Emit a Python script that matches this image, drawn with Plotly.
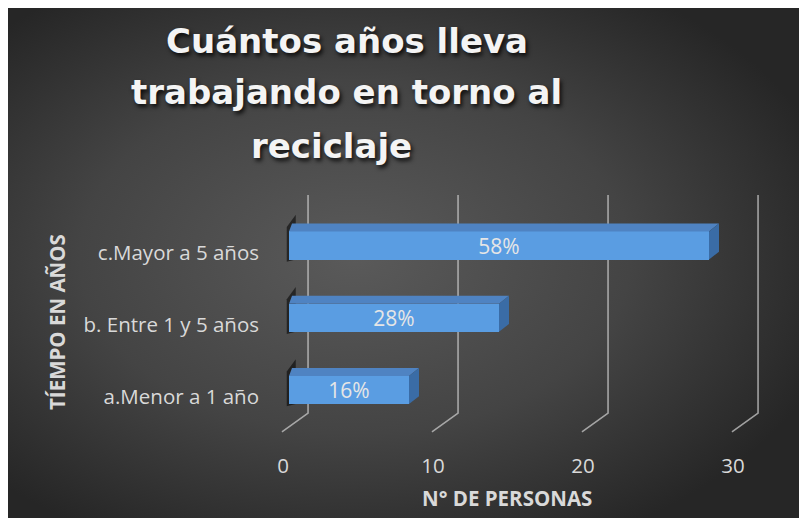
import base64
import plotly.graph_objects as go

# ---- data ----
categories = ["a.Menor a 1 año", "b. Entre 1 y 5 años", "c.Mayor a 5 años"]
personas = [8, 14, 28]
porcentajes = ["16%", "28%", "58%"]
x_ticks = [0, 10, 20, 30]
title_lines = ["Cuántos años lleva", "trabajando en torno al", "reciclaje"]
x_title = "N° DE PERSONAS"
y_title = "TÍEMPO EN AÑOS"

# ---- geometry (figure px; page has an 8px body margin) ----
OFF = 8
W, H = 807, 518
L, T = 280 - OFF, 190 - OFF
R, B = W - (770 - OFF), H - (440 - OFF)
PW, PH = W - L - R, H - T - B

def px2paper(sx, sy):
    fx, fy = sx - OFF, sy - OFF
    return (fx - L) / PW, (H - B - fy) / PH

# background gradient image
svg = (
    "<svg xmlns='http://www.w3.org/2000/svg' width='807' height='518' viewBox='0 0 807 518' preserveAspectRatio='none'>"
    "<defs><radialGradient id='g' cx='0.43' cy='0.48' r='0.62'>"
    "<stop offset='0' stop-color='#5a5a5a'/>"
    "<stop offset='0.55' stop-color='#444444'/>"
    "<stop offset='1' stop-color='#262626'/>"
    "</radialGradient></defs>"
    "<rect x='0' y='0' width='807' height='518' fill='url(#g)'/></svg>"
)
src = "data:image/svg+xml;base64," + base64.b64encode(svg.encode()).decode()

bar_w = 0.39
dx, dy = 0.667, 0.11          # 3D depth offset in axis units
gx0, gx1 = -0.47, 1.27        # grid floor/back offsets
gy0, gy1, gy2 = -0.58, -0.32, 2.70
ypos = list(range(len(categories)))

fig = go.Figure()

# perspective gridlines as shapes below traces
shapes = []
for t in x_ticks:
    shapes.append(dict(
        type="path", xref="x", yref="y", layer="below",
        path=f"M {t+gx0},{gy0} L {t+gx1},{gy1} L {t+gx1},{gy2}",
        line=dict(color="rgba(200,200,200,0.75)", width=1.6),
    ))
# soft shadows behind bars
for i in ypos:
    shapes.append(dict(
        type="path", xref="x", yref="y", layer="below",
        path=(f"M {-0.15},{i-bar_w/2-0.03} L {-0.15},{i+bar_w/2+0.06} "
              f"L {0.45},{i+bar_w/2+dy+0.12} L {0.45},{i-bar_w/2} Z"),
        fillcolor="rgba(0,0,0,0.55)", line=dict(width=0),
    ))

# front faces
fig.add_trace(go.Bar(
    y=ypos, x=personas, orientation="h", width=bar_w,
    marker=dict(color="#5a9de2", line=dict(width=0)),
    text=porcentajes, textposition="inside", insidetextanchor="middle",
    textfont=dict(family="Open Sans", size=21, color="#e6e6e6"),
    hoverinfo="skip", constraintext="none",
))

# top and side faces
for i, v in zip(ypos, personas):
    yt = i + bar_w / 2
    yb = i - bar_w / 2
    fig.add_trace(go.Scatter(
        x=[0, v, v + dx, dx * 0.3, 0], y=[yt, yt, yt + dy, yt + dy, yt],
        fill="toself", fillcolor="#4f83c2", mode="lines",
        line=dict(width=0, color="#4f83c2"), hoverinfo="skip", showlegend=False,
    ))
    fig.add_trace(go.Scatter(
        x=[v, v + dx, v + dx, v, v], y=[yb, yb + dy, yt + dy, yt, yb],
        fill="toself", fillcolor="#3a6ca6", mode="lines",
        line=dict(width=0, color="#3a6ca6"), hoverinfo="skip", showlegend=False,
    ))

annotations = []
title_pos = [(347, 41), (346, 92), (331, 146)]
for txt, (px, py) in zip(title_lines, title_pos):
    ax, ay = px2paper(px, py)
    annotations.append(dict(
        text=f"<b>{txt}</b>", x=ax, y=ay, xref="paper", yref="paper",
        xanchor="center", yanchor="middle", showarrow=False,
        font=dict(family="DejaVu Sans", size=34, color="#f4f4f4",
                  shadow="2px 3px 4px rgba(0,0,0,0.8)"),
    ))
ax, ay = px2paper(507, 498)
annotations.append(dict(
    text=f"<b>{x_title}</b>", x=ax, y=ay, xref="paper", yref="paper",
    xanchor="center", yanchor="middle", showarrow=False,
    font=dict(family="Open Sans", size=20.5, color="#d9d9d9"),
))
ax, ay = px2paper(57, 322)
annotations.append(dict(
    text=f"<b>{y_title}</b>", x=ax, y=ay, xref="paper", yref="paper",
    xanchor="center", yanchor="middle", showarrow=False, textangle=-90,
    font=dict(family="Open Sans", size=20.5, color="#d9d9d9"),
))

x0 = -0.6
y0 = -0.692
fig.update_layout(
    width=W, height=H,
    margin=dict(l=L, r=R, t=T, b=B, pad=0),
    paper_bgcolor="white", plot_bgcolor="rgba(0,0,0,0)",
    showlegend=False, bargap=0, barmode="overlay",
    images=[dict(
        source=src, xref="paper", yref="paper",
        x=-L / PW, y=(H - B) / PH, sizex=W / PW, sizey=H / PH,
        xanchor="left", yanchor="top", sizing="stretch", layer="below",
    )],
    shapes=shapes,
    annotations=annotations,
    xaxis=dict(
        range=[x0, x0 + PW / 15], tickvals=x_ticks, showgrid=False, zeroline=False,
        showline=False, ticks="", ticklabelshift=-6, ticklabelstandoff=11,
        tickfont=dict(family="Open Sans", size=20.5, color="#d9d9d9"),
        fixedrange=True,
    ),
    yaxis=dict(
        tickvals=ypos, ticktext=categories,
        range=[y0, y0 + PH / 72.25], showgrid=False, zeroline=False,
        showline=False, ticks="", ticklabelshift=7, ticklabelstandoff=20,
        tickfont=dict(family="Open Sans", size=20.5, color="#d9d9d9"),
        fixedrange=True,
    ),
)

fig.write_html("out.html")
